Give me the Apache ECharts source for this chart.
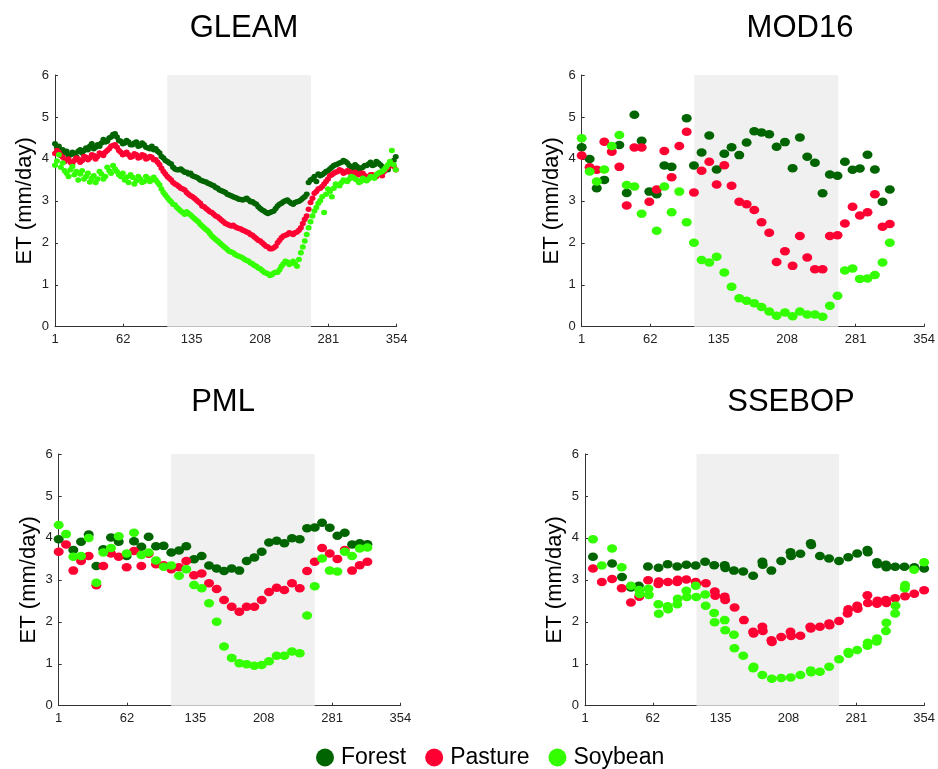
<!DOCTYPE html>
<html><head><meta charset="utf-8">
<script src="https://cdn.jsdelivr.net/npm/echarts@6/dist/echarts.min.js"></script>
<style>html,body{margin:0;padding:0;background:#fff}#c{width:938px;height:769px}</style>
</head><body><div id="c"></div>
<script>
// ---- tick labels / categories ----
const tickLabels = ['1','62','135','208','281','354'];
const seriesNames = ['Forest','Pasture','Soybean'];
const panelTitles = ['GLEAM','MOD16','PML','SSEBOP'];
const seasonStart = 116, seasonEnd = 264.5;

// ---- GLEAM (dense, two interleaved reading passes) ----
const gleamDays = [0,4,8,12,16,20,24,28,32,36,40,44,48,52,56,60,64,68,72,76,80,84,88,92,96,100,104,108,112,116,120,124,128,132,136,140,144,148,152,156,160,164,168,172,176,180,184,188,192,196,200,204,208,212,216,220,224,228,232,236,240,244,248,252,256,260,264,268,272,276,280,284,288,292,296,300,304,308,312,316,320,324,328,332,336,340,344,348,352];
const gleamForest = [4.36,4.30,4.22,4.18,4.10,4.12,4.18,4.14,4.26,4.30,4.24,4.34,4.38,4.40,4.50,4.58,4.52,4.42,4.38,4.40,4.34,4.40,4.32,4.34,4.26,4.30,4.24,4.14,4.02,3.94,3.88,3.76,3.74,3.72,3.68,3.66,3.58,3.54,3.48,3.45,3.40,3.36,3.30,3.24,3.20,3.14,3.10,3.06,3.03,3.04,3.02,2.98,2.92,2.82,2.76,2.70,2.74,2.82,2.92,2.98,3.02,2.94,2.96,2.99,3.06,3.16,3.50,3.58,3.64,3.62,3.70,3.76,3.84,3.88,3.92,3.94,3.84,3.78,3.82,3.78,3.84,3.88,3.84,3.94,3.86,3.78,3.74,3.90,4.05];
const gleamPasture = [4.13,4.16,4.04,3.98,3.92,3.96,4.00,3.96,4.04,4.02,4.08,4.06,4.12,4.16,4.24,4.32,4.28,4.16,4.12,4.10,4.06,4.10,4.04,4.08,4.02,4.04,3.98,3.86,3.70,3.58,3.50,3.40,3.34,3.28,3.20,3.12,3.06,2.98,2.88,2.82,2.74,2.68,2.62,2.54,2.46,2.42,2.42,2.36,2.33,2.28,2.24,2.18,2.10,2.04,1.96,1.90,1.86,1.92,2.06,2.16,2.20,2.22,2.24,2.30,2.46,2.64,2.96,3.18,3.28,3.34,3.46,3.60,3.66,3.70,3.72,3.68,3.70,3.66,3.64,3.66,3.60,3.58,3.62,3.58,3.64,3.70,3.80,3.88,3.74];
const gleamSoybean = [3.85,4.10,3.90,3.66,3.74,3.62,3.50,3.72,3.58,3.45,3.60,3.52,3.64,3.58,3.72,3.84,3.70,3.58,3.50,3.44,3.56,3.48,3.52,3.46,3.54,3.50,3.50,3.38,3.20,3.08,2.98,2.90,2.80,2.72,2.74,2.66,2.58,2.50,2.40,2.32,2.22,2.12,2.04,1.96,1.88,1.80,1.76,1.70,1.66,1.60,1.56,1.50,1.44,1.38,1.30,1.26,1.24,1.30,1.36,1.50,1.54,1.52,1.50,1.60,1.90,2.20,2.50,2.76,2.94,3.10,3.16,3.22,3.30,3.38,3.44,3.48,3.52,3.56,3.50,3.46,3.50,3.52,3.56,3.62,3.68,3.74,3.86,4.20,3.74];
const gleamDays2 = [2,6,10,14,18,22,26,30,34,38,42,46,50,54,58,62,66,70,74,78,82,86,90,94,98,102,106,110,114,118,122,126,130,134,138,142,146,150,154,158,162,166,170,174,178,182,186,190,194,198,202,206,210,214,218,222,226,230,234,238,242,246,250,254,258,262,266,270,274,278,282,286,290,294,298,302,306,310,314,318,322,326,330,334,338,342,346,350];
const gleamForest2 = [4.28,4.20,4.14,4.08,4.16,4.06,4.22,4.20,4.22,4.36,4.28,4.30,4.46,4.42,4.52,4.60,4.44,4.36,4.44,4.34,4.38,4.30,4.38,4.28,4.24,4.22,4.18,4.06,3.96,3.90,3.80,3.74,3.76,3.68,3.64,3.60,3.56,3.50,3.46,3.42,3.38,3.32,3.26,3.22,3.16,3.12,3.08,3.04,3.02,3.06,2.98,2.94,2.86,2.78,2.72,2.72,2.76,2.88,2.94,3.00,2.98,2.92,2.98,3.02,3.10,3.44,3.52,3.46,3.60,3.66,3.72,3.80,3.86,3.90,3.96,3.90,3.80,3.86,3.76,3.80,3.84,3.92,3.86,3.90,3.82,3.76,3.84,3.96];
const gleamPasture2 = [4.20,4.08,3.94,4.00,3.88,4.02,3.92,4.06,3.98,4.10,4.00,4.14,4.08,4.20,4.30,4.34,4.20,4.10,4.16,4.04,4.12,4.02,4.10,4.00,4.06,3.98,3.92,3.78,3.64,3.54,3.44,3.38,3.30,3.26,3.16,3.10,3.02,2.94,2.86,2.78,2.72,2.64,2.58,2.50,2.44,2.40,2.38,2.34,2.30,2.26,2.20,2.14,2.06,2.00,1.92,1.86,1.88,2.00,2.12,2.18,2.24,2.20,2.26,2.36,2.56,2.80,3.06,3.22,3.30,3.40,3.52,3.62,3.68,3.74,3.66,3.72,3.64,3.68,3.62,3.66,3.56,3.62,3.56,3.66,3.60,3.76,3.90,3.82];
const gleamSoybean2 = [3.95,3.80,3.72,3.58,3.82,3.70,3.64,3.52,3.66,3.54,3.44,3.70,3.52,3.80,3.66,3.76,3.62,3.66,3.56,3.62,3.40,3.58,3.44,3.58,3.46,3.56,3.44,3.28,3.14,3.02,2.92,2.84,2.76,2.68,2.70,2.62,2.54,2.44,2.36,2.28,2.16,2.08,2.00,1.92,1.84,1.78,1.72,1.68,1.64,1.58,1.52,1.46,1.40,1.34,1.28,1.22,1.28,1.30,1.44,1.56,1.48,1.56,1.44,1.76,2.04,2.36,2.64,2.84,3.00,2.72,3.28,3.10,3.40,3.36,3.50,3.46,3.58,3.52,3.44,3.54,3.48,3.58,3.54,3.66,3.70,3.80,3.94,3.86];

// ---- MOD16 (8-day) ----
const modDays = [0,8.2,15.5,23.3,31,38.8,46.4,54.3,61.8,69.7,77.3,85.2,92.7,100.6,108.2,115.7,123.6,131.5,139.1,147,154.5,162.4,170,177.9,185.4,193.3,200.9,209.5,217.4,224.9,232.5,240.4,248.3,255.8,263.7,271.3,279.2,286.7,294.6,302.2,310.1,317.6];
const modForest = [4.28,4.00,3.30,3.50,null,4.33,3.19,5.05,4.43,3.22,3.16,3.84,3.81,null,4.97,3.84,4.15,4.56,3.75,4.12,4.28,4.09,4.39,4.66,4.63,4.59,4.29,4.40,3.78,4.51,4.05,3.91,3.18,3.63,3.60,3.93,3.74,3.77,4.10,3.75,2.98,3.27];
const modPasture = [4.08,3.80,3.74,4.41,4.17,3.81,2.89,4.27,4.27,2.98,3.27,4.19,3.56,4.31,4.65,3.20,3.72,3.93,3.39,3.85,3.36,2.98,2.92,2.78,2.49,2.24,1.54,1.80,1.45,2.16,1.65,1.37,1.37,2.16,2.18,2.46,2.86,2.65,2.73,3.16,2.38,2.45];
const modSoybean = [4.49,3.70,3.46,3.75,4.31,4.57,3.38,3.34,2.69,null,2.29,3.34,2.73,3.22,2.49,2.00,1.59,1.53,1.67,1.29,0.95,0.68,0.62,0.56,0.47,0.36,0.26,0.34,0.25,0.36,0.29,0.29,0.24,0.50,0.74,1.34,1.39,1.14,1.15,1.23,1.53,2.00];

// ---- PML (8-day) ----
const pmlDays = [0,7.6,15.1,23.1,31,38.9,46.1,54,62,70.2,77.8,85.4,92.9,100.5,108.4,116.3,124.3,131.8,139.8,147.7,155.3,163.2,170.8,178.7,186.6,194.2,202.1,209.7,217.3,225.2,233.1,241,249,256.6,264.5,272.1,280,287.9,295.5,303.1,311,318.9];
const pmlForest = [3.97,null,3.71,3.91,4.08,3.33,3.73,4.01,3.91,3.57,3.92,3.79,4.03,3.80,3.81,3.65,3.70,3.80,3.49,3.57,3.34,3.27,3.21,3.27,3.22,3.45,3.53,3.67,3.89,3.93,3.87,3.99,3.97,4.23,4.25,4.36,4.24,4.05,4.12,3.84,3.87,3.85];
const pmlPasture = [3.67,3.84,3.22,3.45,3.57,2.87,3.33,3.63,3.55,3.30,3.69,3.33,3.62,3.37,3.35,3.25,3.30,3.45,3.11,3.15,2.92,2.78,2.52,2.36,2.24,2.36,2.36,2.52,2.71,2.81,2.76,2.92,2.80,3.21,3.43,3.76,3.63,3.50,3.71,3.22,3.35,3.43];
const pmlSoybean = [4.31,4.09,3.55,3.57,4.00,2.93,3.65,3.76,4.04,3.63,4.12,3.59,3.65,3.46,3.31,3.34,3.10,3.25,2.88,2.80,2.44,2.00,1.41,1.14,1.01,0.99,0.95,0.97,1.06,1.19,1.19,1.29,1.25,2.15,2.85,3.51,3.22,3.20,3.67,3.57,3.75,3.77];

// ---- SSEBOP (day, value) ----
const ssebopForest = [[8.3,3.55],[28.2,3.39],[38.5,3.07],[47.8,2.82],[56,2.86],[65.5,3.32],[76.5,3.29],[86,3.37],[96,3.32],[105.5,3.36],[115.2,3.34],[125,3.43],[134.5,3.35],[145.4,3.35],[146,3.28],[155,3.22],[164.7,3.20],[175,3.10],[184.6,3.43],[185,3.36],[194,3.22],[204.2,3.45],[213.9,3.66],[214.5,3.57],[224.2,3.62],[235,3.87],[235.5,3.83],[244.5,3.57],[254,3.51],[264.4,3.45],[274,3.54],[283.3,3.63],[293.9,3.71],[294.3,3.66],[303.9,3.42],[304.3,3.37],[313.2,3.36],[313.6,3.30],[322.8,3.31],[332.4,3.31],[342.7,3.30],[353,3.27]];
const ssebopPasture = [[8.3,3.27],[17.5,2.95],[28.2,3.02],[38.2,2.80],[47.8,2.46],[56.4,2.60],[57,2.65],[65.7,2.99],[76.3,2.90],[76.8,2.96],[86.3,2.95],[96,2.95],[96.5,3.00],[105.5,3.01],[115.2,2.95],[115.8,2.91],[125.8,2.92],[135.1,2.72],[135.6,2.62],[145.4,2.60],[145.9,2.52],[155.7,2.34],[165.4,2.04],[175,1.76],[175.5,1.72],[184.6,1.88],[185.1,1.78],[194,1.56],[194.5,1.52],[204.2,1.64],[213.9,1.76],[214.6,1.66],[224.2,1.67],[234.5,1.88],[235,1.84],[244.5,1.88],[254.1,1.96],[254.6,1.92],[264.4,2.02],[273.3,2.20],[274,2.30],[283.3,2.38],[283.8,2.31],[293.9,2.63],[294.4,2.45],[303.9,2.43],[304.4,2.50],[313.2,2.52],[313.7,2.45],[322.8,2.56],[333.1,2.61],[342.7,2.67],[353,2.75]];
const ssebopSoybean = [[8.3,3.97],[17.5,3.34],[28.2,3.75],[38.2,3.30],[47.8,2.86],[56.4,2.76],[57,2.66],[66,2.79],[66.5,2.64],[76.3,2.42],[76.8,2.19],[86,2.37],[86.5,2.30],[96,2.42],[96.5,2.55],[105.5,2.74],[106,2.59],[115.2,2.86],[115.7,2.59],[125.1,2.65],[125.6,2.38],[134.4,2.21],[134.9,1.99],[145.4,2.04],[145.9,1.80],[155,1.69],[155.5,1.37],[164.7,1.19],[175,0.89],[175.5,0.93],[184.6,0.73],[194.4,0.64],[204.2,0.66],[214.2,0.67],[224.2,0.73],[235,0.84],[235.4,0.80],[244.5,0.81],[254.1,0.93],[264.4,1.11],[274,1.28],[274.4,1.24],[283.3,1.33],[293.9,1.43],[294.3,1.50],[303.6,1.53],[304,1.60],[313.2,1.78],[313.7,1.98],[322.8,2.20],[323.2,2.38],[332.8,2.80],[333.2,2.88],[342.5,3.24],[353,3.42]];

// ---- build ----
const FONT = 'Liberation Sans, Arial, sans-serif';
const colors = ['#006400', '#ff0033', '#33ff00'];
function zip(days, vals) {
  const out = [];
  days.forEach((d, i) => { if (vals[i] != null) out.push([d, vals[i]]); });
  return out;
}
const panels = [
  { data: [zip(gleamDays, gleamForest).concat(zip(gleamDays2, gleamForest2)),
           zip(gleamDays, gleamPasture).concat(zip(gleamDays2, gleamPasture2)),
           zip(gleamDays, gleamSoybean).concat(zip(gleamDays2, gleamSoybean2))], size: [6, 5.5],
    grid: { left: 55, top: 75, width: 341.7, height: 251.7 }, titleX: 239, titleY: 8 },
  { data: [zip(modDays, modForest), zip(modDays, modPasture), zip(modDays, modSoybean)], size: [10, 8.5],
    grid: { left: 581.7, top: 75, width: 342.6, height: 251.7 }, titleX: 795, titleY: 8 },
  { data: [zip(pmlDays, pmlForest), zip(pmlDays, pmlPasture), zip(pmlDays, pmlSoybean)], size: [10, 8.5],
    grid: { left: 58.7, top: 454, width: 341.7, height: 251.7 }, titleX: 218, titleY: 382 },
  { data: [ssebopForest, ssebopPasture, ssebopSoybean], size: [10, 8.5],
    grid: { left: 585, top: 454, width: 342.3, height: 251.7 }, titleX: 786, titleY: 382 }
];

const grids = [], xAxes = [], yAxes = [], series = [], titles = [];
panels.forEach((p, gi) => {
  grids.push(Object.assign({ containLabel: false }, p.grid));
  titles.push({ text: panelTitles[gi], left: p.titleX, top: p.titleY, textAlign: 'center',
    textStyle: { fontSize: 31, fontWeight: 'normal', color: '#000', fontFamily: FONT } });
  xAxes.push({
    type: 'value', gridIndex: gi, min: 0, max: 353, interval: 70.6,
    splitLine: { show: false },
    axisLine: { lineStyle: { color: '#333', width: 1 } },
    axisTick: { inside: true, length: 3, lineStyle: { color: '#333' } },
    axisLabel: { color: '#222', fontSize: 13, fontFamily: FONT, margin: 6,
      formatter: v => tickLabels[Math.round(v / 70.6)] }
  });
  yAxes.push({
    type: 'value', gridIndex: gi, min: 0, max: 6, interval: 1,
    name: 'ET (mm/day)', nameLocation: 'middle', nameGap: 19,
    nameTextStyle: { fontSize: 22, color: '#000', fontFamily: FONT },
    splitLine: { show: false },
    axisLine: { show: true, lineStyle: { color: '#333', width: 1 } },
    axisTick: { show: true, inside: true, length: 3, lineStyle: { color: '#333' } },
    axisLabel: { color: '#222', fontSize: 13, fontFamily: FONT, margin: 6 }
  });
  series.push({
    type: 'scatter', xAxisIndex: gi, yAxisIndex: gi, data: [], z: 1, silent: true,
    markArea: { silent: true, itemStyle: { color: '#f0f0f0' },
      data: [[{ xAxis: seasonStart, yAxis: 0 }, { xAxis: seasonEnd, yAxis: 6 }]] }
  });
  seriesNames.forEach((name, si) => {
    series.push({
      name, type: 'scatter', xAxisIndex: gi, yAxisIndex: gi, z: 2 + si,
      symbol: 'circle', symbolSize: p.size,
      itemStyle: { color: colors[si], opacity: 1 },
      data: p.data[si], animation: false
    });
  });
});

const chart = echarts.init(document.getElementById('c'), null, { renderer: 'canvas' });
chart.setOption({
  animation: false,
  backgroundColor: '#fff',
  title: titles,
  grid: grids, xAxis: xAxes, yAxis: yAxes, series,
  legend: {
    data: seriesNames, left: 311, top: 741, icon: 'circle',
    itemWidth: 22, itemHeight: 18, itemGap: 19,
    textStyle: { fontSize: 23, color: '#000', fontFamily: FONT }
  }
});
</script></body></html>
